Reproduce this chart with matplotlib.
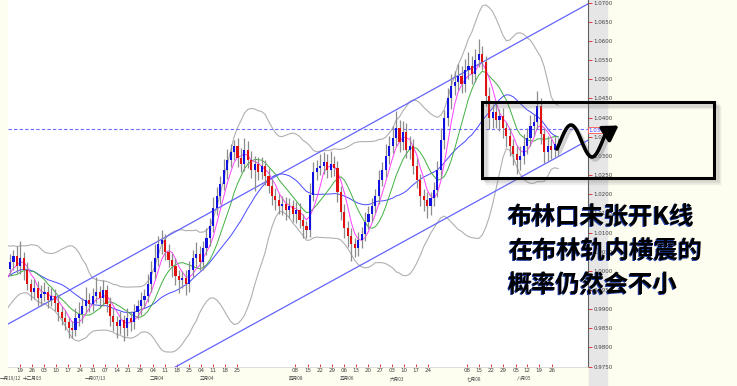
import numpy as np
import pandas as pd
import matplotlib
matplotlib.use("Agg")
import matplotlib.pyplot as plt
from matplotlib.patches import Rectangle

# closes before the visible window (only feed the indicators)
warmup_close = [0.9900, 0.9915, 0.9930, 0.9950, 0.9975, 0.9968, 0.9995, 1.0020, 1.0040, 1.0055,
                1.0045, 1.0020, 0.9995, 0.9975, 0.9960, 0.9950, 0.9975, 0.9970, 0.9995, 1.0005]

close = [1.0023, 1.0039, 1.0013, 1.0034, 1.0002, 0.9966, 0.9945, 0.9955, 0.9929, 0.9940,
         0.9945, 0.9924, 0.9934, 0.9916, 0.9893, 0.9877, 0.9867, 0.9851, 0.9846, 0.9877,
         0.9888, 0.9908, 0.9924, 0.9914, 0.9934, 0.9945, 0.9929, 0.9950, 0.9914, 0.9882,
         0.9867, 0.9856, 0.9872, 0.9851, 0.9877, 0.9867, 0.9893, 0.9908, 0.9924, 0.9934,
         0.9966, 0.9997, 1.0034, 1.0070, 1.0081, 1.0049, 1.0028, 1.0013, 0.9987, 0.9976,
         0.9981, 0.9966, 1.0002, 1.0034, 1.0044, 1.0023, 1.0060, 1.0086, 1.0117, 1.0164,
         1.0195, 1.0227, 1.0263, 1.0289, 1.0310, 1.0326, 1.0295, 1.0279, 1.0316, 1.0289,
         1.0263, 1.0279, 1.0258, 1.0274, 1.0248, 1.0222, 1.0195, 1.0185, 1.0169, 1.0175,
         1.0159, 1.0169, 1.0149, 1.0159, 1.0133, 1.0117, 1.0107, 1.0198, 1.0258, 1.0269,
         1.0274, 1.0284, 1.0263, 1.0279, 1.0269, 1.0206, 1.0154, 1.0112, 1.0091, 1.0070,
         1.0060, 1.0081, 1.0096, 1.0128, 1.0149, 1.0169, 1.0195, 1.0237, 1.0263, 1.0300,
         1.0326, 1.0347, 1.0373, 1.0336, 1.0363, 1.0316, 1.0326, 1.0274, 1.0237, 1.0195,
         1.0185, 1.0169, 1.0190, 1.0211, 1.0263, 1.0342, 1.0399, 1.0451, 1.0483, 1.0493,
         1.0509, 1.0488, 1.0524, 1.0535, 1.0514, 1.0550, 1.0566, 1.0545, 1.0456, 1.0399,
         1.0415, 1.0394, 1.0404, 1.0373, 1.0352, 1.0326, 1.0305, 1.0289, 1.0300, 1.0326,
         1.0347, 1.0378, 1.0389, 1.0430, 1.0357, 1.0310, 1.0326, 1.0316, 1.0331, 1.0321]

# wick lengths in pips
upper_wick = [20, 15, 25, 45, 15, 20, 12, 25, 18, 22,
              25, 15, 20, 18, 22, 15, 20, 12, 18, 25,
              30, 20, 35, 18, 22, 40, 15, 25, 12, 18,
              20, 15, 22, 12, 25, 18, 20, 15, 22, 18,
              25, 30, 35, 20, 25, 15, 22, 18, 20, 15,
              18, 22, 25, 20, 30, 22, 18, 25, 20, 28,
              25, 20, 30, 28, 20, 15, 20, 25, 30, 22,
              25, 20, 18, 22, 15, 20, 18, 22, 15, 20,
              18, 22, 15, 20, 18, 15, 12, 30, 25, 20,
              30, 25, 22, 35, 20, 18, 15, 20, 18, 22,
              15, 20, 18, 25, 20, 22, 18, 25, 20, 30,
              25, 30, 45, 20, 28, 22, 25, 18, 20, 15,
              18, 20, 15, 22, 25, 30, 20, 25, 30, 28,
              30, 25, 28, 35, 25, 30, 40, 20, 15, 25,
              20, 25, 18, 22, 15, 20, 18, 22, 25, 30,
              25, 30, 20, 40, 20, 15, 25, 18, 22, 15]
lower_wick = [15, 20, 18, 22, 25, 15, 20, 18, 22, 20,
              18, 22, 15, 20, 25, 18, 22, 25, 20, 15,
              20, 25, 18, 22, 20, 18, 25, 20, 22, 25,
              25, 30, 20, 35, 22, 25, 20, 18, 22, 20,
              15, 20, 18, 22, 25, 20, 18, 30, 25, 35,
              22, 28, 20, 18, 25, 20, 22, 18, 20, 15,
              18, 20, 15, 22, 18, 20, 25, 22, 18, 20,
              20, 55, 22, 18, 25, 20, 22, 25, 20, 22,
              25, 20, 22, 25, 20, 30, 20, 18, 15, 20,
              18, 22, 20, 18, 22, 25, 22, 25, 30, 45,
              25, 20, 22, 18, 20, 22, 18, 20, 15, 18,
              20, 18, 22, 25, 20, 22, 25, 20, 22, 25,
              28, 30, 22, 20, 18, 20, 25, 22, 28, 25,
              22, 25, 20, 22, 25, 20, 18, 20, 25, 30,
              25, 22, 28, 25, 30, 25, 28, 35, 25, 22,
              20, 22, 25, 20, 25, 28, 22, 25, 20, 22]

day_labels = ['19', '26', '03', '10', '17', '24', '31', '07', '14', '21', '28', '04', '11', '18', '25',
              '04', '11', '18', '25', '08', '15', '22', '29', '06', '13', '20', '27', '03', '10', '17',
              '24', '08', '15', '22', '29', '05', '12', '19', '26']
month_labels = ['一月19/12', '十二月03', '一月07/13', '二月04', '三月04', '四月08', '五月06',
                '六月03', '七月08', '八月05']

last_price = 1.0369
chan_idx = [-0.58, 167.7]
chan_upper = [0.9861, 1.0697]
chan_lower = [0.9509, 1.0341]

note_lines = ['布林口未张开K线', '在布林轨内横震的', '概率仍然会不小']

# layout (pixels of the 737x386 picture)
day_px = [20, 32.3, 44.3, 56, 68.3, 80, 92.7, 104.7, 116.7, 128.3, 140, 152.7, 164.7, 176.7, 188.7,
          201, 212.7, 224.7, 236.7, 295, 308.3, 320, 332.3, 344.3, 356, 368.3, 380, 392, 404, 416,
          428, 466.7, 479.3, 491, 503.3, 515.7, 527.3, 539.3, 551.7]
month_px = [0, 23, 85, 150, 200, 289, 340, 390, 467, 517]
x0_px, step_px = 10, 3.447

n = len(close)
opens = np.array([warmup_close[-1]] + close[:-1])
closes = np.array(close)
highs = np.maximum(opens, closes) + np.array(upper_wick) * 1e-4
lows = np.minimum(opens, closes) - np.array(lower_wick) * 1e-4
x = np.arange(n)

allc = pd.Series(warmup_close + close)
xa = np.arange(-len(warmup_close), n)
ma5 = allc.rolling(5).mean()
ma10 = allc.rolling(10).mean()
ma20 = allc.rolling(20).mean()
sd20 = allc.rolling(20).std()

fig = plt.figure(figsize=(7.37, 3.86), dpi=100, facecolor='#fdfdf0')
fig.patches.append(Rectangle((589 / 737, 0), 18 / 737, 1, transform=fig.transFigure,
                             color='#e6e6e6', zorder=-1))
ax = fig.add_axes([8 / 737, 19 / 386, 580 / 737, 367 / 386])
ax.set_facecolor('white')

# bollinger + moving averages
ax.plot(xa, ma20 + 2 * sd20, color='#b0b0b0', lw=0.8)
ax.plot(xa, ma20 - 2 * sd20, color='#b0b0b0', lw=0.8)
ax.plot(xa, ma20, color='#4848ff', lw=0.7)
ax.plot(xa, ma10, color='#40b040', lw=0.7)
ax.plot(xa, ma5, color='#ff40ff', lw=0.7)

# candles
up = closes >= opens
ax.vlines(x, lows, highs, color='#8c8c8c', lw=0.9, zorder=3)
body_h = np.maximum(np.abs(closes - opens), 0.0003)
ax.bar(x, body_h, bottom=np.minimum(opens, closes), width=0.62,
       color=np.where(up, '#1010e0', '#e01010'), zorder=4, linewidth=0)

# channel + last price line
ax.plot(chan_idx, chan_upper, color='#6464ff', lw=0.9)
ax.plot(chan_idx, chan_lower, color='#6464ff', lw=0.9)
ax.axhline(last_price, color='#6a6aff', lw=0.8, ls=(0, (3, 2)))

ax.set_xlim((8 - x0_px) / step_px, (588 - x0_px) / step_px)
ax.set_ylim(0.9749, 1.0707)
ax.set_xticks([(p - x0_px) / step_px for p in day_px])
ax.set_xticklabels(day_labels)
yt = np.arange(0.9750, 1.07005, 0.005)
ax.set_yticks(yt)
ax.set_yticklabels([f'{v:.4f}' for v in yt])
ax.yaxis.tick_right()
ax.tick_params(axis='y', colors='#e02020', length=3, width=0.6, labelsize=4,
               labelcolor='#404040', pad=1)
ax.tick_params(axis='x', colors='#e02020', direction='in', length=2.5, width=0.6,
               labelsize=4, labelcolor='#404040', pad=1)
for s in ['top', 'left']:
    ax.spines[s].set_visible(False)
ax.spines['right'].set_color('#606060')
ax.spines['right'].set_linewidth(0.8)
ax.spines['bottom'].set_color('#d0d0d0')
ax.spines['bottom'].set_linewidth(0.5)

# overlay in picture pixels for the annotations
ov = fig.add_axes([0, 0, 1, 1])
ov.set_zorder(5)
ov.set_xlim(0, 737)
ov.set_ylim(386, 0)
ov.axis('off')
ov.patch.set_alpha(0)

for lab, px in zip(month_labels, month_px):
    ov.text(px, 378.5, lab, fontsize=3.3, color='#404040', ha='left', va='center',
            family=['Noto Sans CJK SC', 'DejaVu Sans'])

ov.text(598, 130, f'{last_price:.4f}', fontsize=4, color='#3030ff', ha='center', va='center',
        bbox=dict(boxstyle='square,pad=0.15', fc='white', ec='#ff5050', lw=0.6))

# box with shadow
for k in range(1, 5):
    ov.add_patch(Rectangle((482 + 1.3 * k, 102 + 1.3 * k), 232, 75.5, fill=False,
                           ec='#808080', lw=2.5, alpha=0.12))
ov.add_patch(Rectangle((482, 102), 232, 75.5, fill=False, ec='black', lw=2.2))

# wave with arrow
wx = np.linspace(557, 606, 80)
wy = 141 - 16 * np.sin(2 * np.pi * (wx - 560.5) / 42)
ov.plot(wx + 3, wy + 3, color='#808080', lw=2.6, alpha=0.35, solid_capstyle='round')
ov.plot(wx, wy, color='black', lw=2.6, solid_capstyle='round')
ov.annotate('', xy=(621, 124), xytext=(604, 135),
            arrowprops=dict(arrowstyle='-|>,head_length=0.9,head_width=0.55', color='black', lw=2.6))

for i, line in enumerate(note_lines):
    y = 218 + i * 34
    ov.text(507, y + 0.8, line, fontsize=17.5, fontweight='bold', color='#1a3aa0',
            ha='left', va='center', family=['Noto Sans CJK SC', 'DejaVu Sans'])
    ov.text(508, y, line, fontsize=17.5, fontweight='bold', color='black',
            ha='left', va='center', family=['Noto Sans CJK SC', 'DejaVu Sans'])

fig.savefig('out.png', dpi=100, facecolor=fig.get_facecolor())
